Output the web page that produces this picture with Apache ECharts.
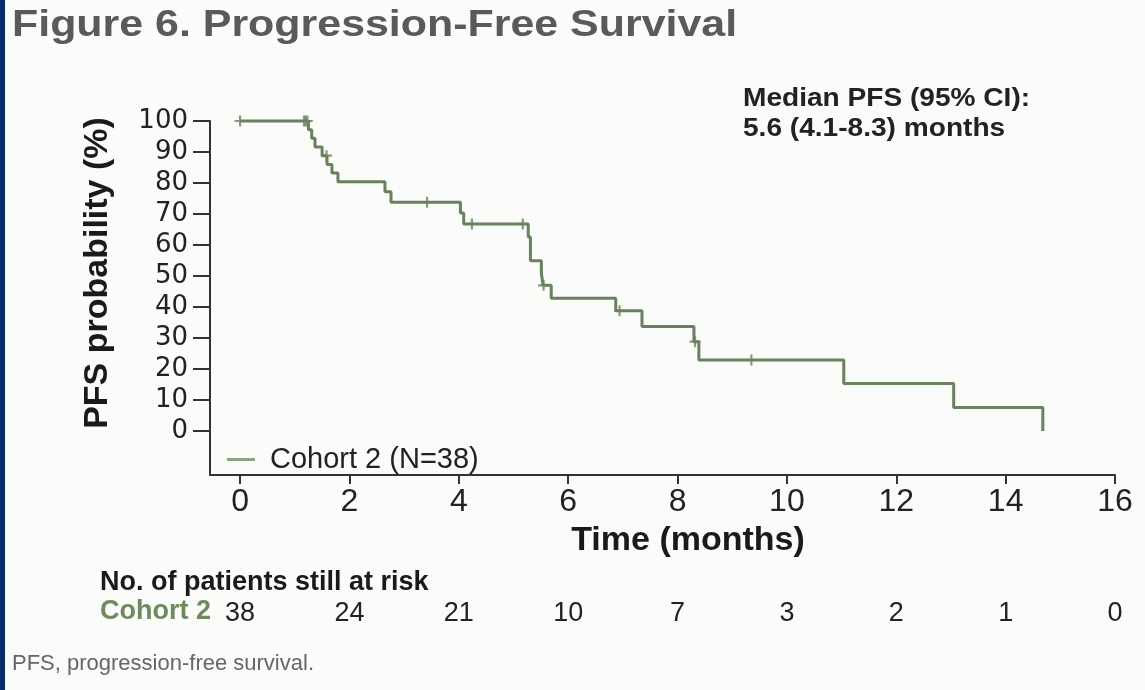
<!DOCTYPE html>
<html>
<head>
<meta charset="utf-8">
<script src="https://cdn.jsdelivr.net/npm/echarts@6/dist/echarts.min.js"></script>
<style>
html,body{margin:0;padding:0;background:#fbfbf9;}
#chart{width:1145px;height:690px;}
</style>
</head>
<body>
<div id="chart"></div>
<script>
// ---- data ----
const eventTimes = [0, 1.25, 1.31, 1.37, 1.50, 1.59, 1.68, 1.79, 2.65, 2.76, 4.03, 4.09, 5.27, 5.31, 5.51, 5.54, 5.69, 6.87, 7.35, 8.30, 8.39, 11.04, 13.05, 14.68];
const survival   = [100, 97.2, 94.4, 91.6, 88.8, 86.0, 83.2, 80.4, 77.2, 73.8, 70.3, 66.8, 62.6, 54.9, 50.9, 47.0, 42.8, 38.8, 33.7, 28.8, 22.9, 15.3, 7.6, 0];
const censorTimes = [0, 1.17, 1.20, 1.23, 1.58, 3.42, 4.24, 5.17, 5.55, 6.94, 8.32, 9.35];
const timeTicks = [0, 2, 4, 6, 8, 10, 12, 14, 16];
const riskCounts = [38, 24, 21, 10, 7, 3, 2, 1, 0];
const yTicks = [0, 10, 20, 30, 40, 50, 60, 70, 80, 90, 100];
const seriesName = 'Cohort 2 (N=38)';

// ---- build step curve from the data ----
const stepPts = [];
for (let i = 0; i < eventTimes.length; i++) {
  if (i > 0) stepPts.push([eventTimes[i], survival[i - 1]]);
  stepPts.push([eventTimes[i], survival[i]]);
}
function survAt(t) {
  let s = survival[0];
  for (let i = 0; i < eventTimes.length; i++) { if (eventTimes[i] <= t) s = survival[i]; }
  return s;
}
const censorPts = censorTimes.map(t => [t, survAt(t)]);

const green = '#6a8160';
const plusPath = 'path://M4,0 H6 V4 H10 V6 H6 V10 H4 V6 H0 V4 H4 Z';

const chart = echarts.init(document.getElementById('chart'), null, {renderer: 'canvas'});
chart.setOption({
  animation: false,
  backgroundColor: '#fbfbf9',
  grid: {left: 210, right: 30, top: 121, bottom: 215, containLabel: false},
  legend: {
    data: [seriesName],
    left: 222, top: 440,
    icon: 'path://M0,0 H28 V3 H0 Z M37.9,0 H38 V3 H37.9 Z',
    itemWidth: 38, itemHeight: 3,
    itemStyle: {color: '#8ea37f'},
    textStyle: {fontFamily: 'Liberation Sans', fontSize: 29, color: '#222'}
  },
  xAxis: [{
    type: 'value', min: -0.55, max: 16,
    axisLine: {onZero: false, lineStyle: {color: '#333', width: 2}},
    axisTick: {customValues: timeTicks, length: 9, lineStyle: {color: '#333', width: 2}},
    axisLabel: {customValues: timeTicks, margin: 11, fontSize: 32, color: '#222',
      fontFamily: 'Liberation Sans'},
    splitLine: {show: false}
  }, {
    type: 'value', min: -0.55, max: 16, position: 'bottom', offset: 117,
    axisLine: {show: false, onZero: false},
    axisTick: {show: false},
    axisLabel: {customValues: timeTicks, margin: 8, fontSize: 27, color: '#222',
      fontFamily: 'Liberation Sans',
      formatter: v => { const k = timeTicks.indexOf(Math.round(v)); return k >= 0 ? String(riskCounts[k]) : ''; }},
    splitLine: {show: false}
  }],
  yAxis: {
    type: 'value', min: -14.2, max: 100,
    axisLine: {show: true, onZero: false, lineStyle: {color: '#333', width: 2}},
    axisTick: {show: true, customValues: yTicks, length: 17, lineStyle: {color: '#333', width: 2}},
    axisLabel: {customValues: yTicks, margin: 22, fontSize: 26, color: '#222', fontFamily: 'DejaVu Sans'},
    splitLine: {show: false}
  },
  series: [{
    name: seriesName, type: 'line', data: stepPts, showSymbol: false, clip: false,
    itemStyle: {color: green},
    lineStyle: {color: green, width: 3}
  }, {
    name: 'censored', type: 'scatter', data: censorPts, symbol: plusPath, symbolSize: 11,
    clip: false, itemStyle: {color: green}
  }],
  graphic: [
    {type: 'rect', left: 0, top: 0, shape: {width: 5, height: 690}, style: {fill: '#0b2a68'}},
    {type: 'text', x: 12, y: 26, scaleX: 1.16, style: {text: 'Figure 6. Progression-Free Survival', fontFamily: 'Liberation Sans',
      fontWeight: 'bold', fontSize: 37, fill: '#5a5a5a', verticalAlign: 'middle'}},
    {type: 'text', x: 743, y: 99, scaleX: 1.08, style: {text: 'Median PFS (95% CI):', fontFamily: 'Liberation Sans',
      fontWeight: 'bold', fontSize: 26, fill: '#222', verticalAlign: 'middle'}},
    {type: 'text', x: 743, y: 129, scaleX: 1.08, style: {text: '5.6 (4.1-8.3) months', fontFamily: 'Liberation Sans',
      fontWeight: 'bold', fontSize: 26, fill: '#222', verticalAlign: 'middle'}},
    {type: 'text', x: 98, y: 273, rotation: Math.PI / 2, style: {text: 'PFS probability (%)', fontFamily: 'Liberation Sans',
      fontWeight: 'bold', fontSize: 34, fill: '#1a1a1a', align: 'center', verticalAlign: 'middle'}},
    {type: 'text', x: 688, y: 541, style: {text: 'Time (months)', fontFamily: 'Liberation Sans',
      fontWeight: 'bold', fontSize: 34, fill: '#1a1a1a', align: 'center', verticalAlign: 'middle'}},
    {type: 'text', x: 100, y: 583, style: {text: 'No. of patients still at risk', fontFamily: 'Liberation Sans',
      fontWeight: 'bold', fontSize: 27, fill: '#1a1a1a', verticalAlign: 'middle'}},
    {type: 'text', x: 100, y: 612, style: {text: 'Cohort 2', fontFamily: 'Liberation Sans',
      fontWeight: 'bold', fontSize: 27, fill: '#6f8a5e', verticalAlign: 'middle'}},
    {type: 'text', x: 12, y: 664, style: {text: 'PFS, progression-free survival.', fontFamily: 'Liberation Sans',
      fontSize: 22, fill: '#666', verticalAlign: 'middle'}}
  ]
});
</script>
</body>
</html>
